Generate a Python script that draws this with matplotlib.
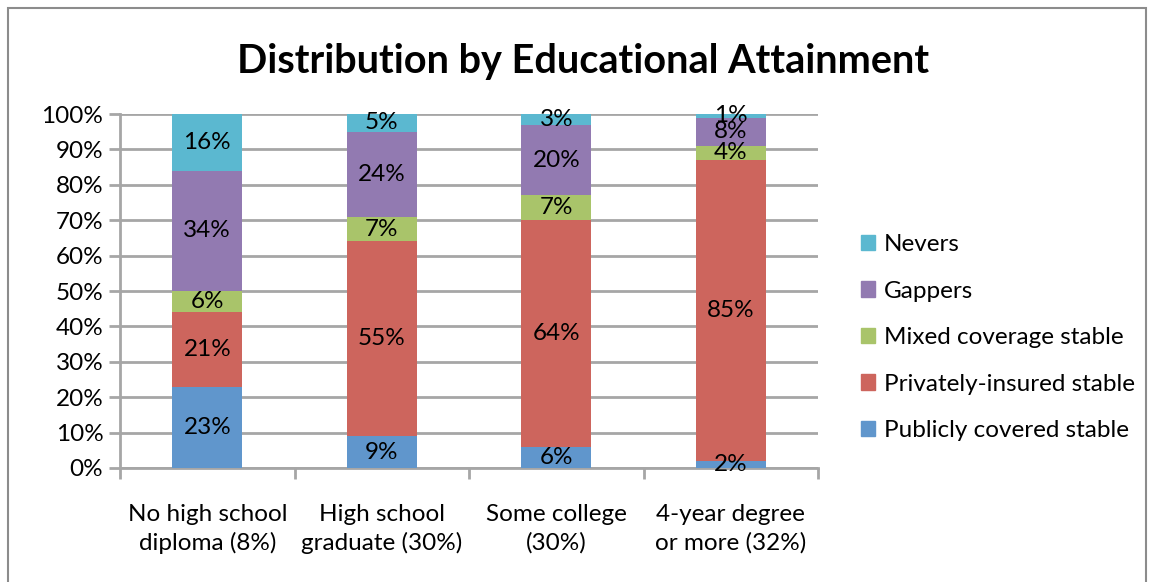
import numpy as np
import matplotlib
matplotlib.use('Agg')
import matplotlib.pyplot as plt
from matplotlib.patches import Rectangle, Patch

plt.rcParams['font.family'] = ['Lato', 'DejaVu Sans']

categories = ['No high school\ndiploma (8%)', 'High school\ngraduate (30%)',
              'Some college\n(30%)', '4-year degree\nor more (32%)']
series = ['Publicly covered stable', 'Privately-insured stable',
          'Mixed coverage stable', 'Gappers', 'Nevers']
public = [23, 9, 6, 2]
private = [21, 55, 64, 85]
mixed = [6, 7, 7, 4]
gappers = [34, 24, 20, 8]
nevers = [16, 5, 3, 1]
colors = ['#6096CC', '#CD655D', '#A9C46A', '#927AB1', '#5BB8D0']

grid_c = '#A6A6A6'
fs = 17.5

fig = plt.figure(figsize=(11.54, 5.82), dpi=100)
fig.patches.append(Rectangle((0.007, -0.01), 0.986, 0.996, transform=fig.transFigure,
                             fill=False, edgecolor='#8C8C8C', linewidth=1.5))
ax = fig.add_axes([0.104, 0.196, 0.605, 0.608])

x = np.arange(len(categories))
data = np.array([public, private, mixed, gappers, nevers], dtype=float)
totals = data.sum(axis=0)
bottom = np.zeros(len(categories))
for vals, name, c in zip(data, series, colors):
    frac = vals / totals
    ax.bar(x, frac, 0.4, bottom=bottom, color=c, label=name, zorder=3)
    for xi, b, f, v in zip(x, bottom, frac, vals):
        ax.text(xi, b + f / 2, '%d%%' % v, ha='center', va='center',
                fontsize=fs, color='black', zorder=4)
    bottom += frac

ax.set_xlim(-0.5, len(categories) - 0.5)
ax.set_ylim(0, 1)
ax.set_yticks(np.linspace(0, 1, 11))
ax.set_yticklabels(['%d%%' % v for v in range(0, 101, 10)], fontsize=fs)
ax.yaxis.grid(True, color=grid_c, linewidth=2, zorder=0)
ax.set_xticks(np.arange(-0.5, len(categories)), minor=False)
ax.set_xticklabels([])
ax.set_xticks(x, minor=True)
ax.set_xticklabels(categories, minor=True, fontsize=fs, linespacing=1.4)
ax.tick_params(axis='x', which='minor', length=0, pad=26)
ax.tick_params(axis='x', which='major', length=8, width=2, color=grid_c)
ax.tick_params(axis='y', length=8, width=2, color=grid_c, pad=4)
for s in ['top', 'right']:
    ax.spines[s].set_visible(False)
for s in ['left', 'bottom']:
    ax.spines[s].set_color(grid_c)
    ax.spines[s].set_linewidth(2)

fig.text(0.505, 0.895, 'Distribution by Educational Attainment', ha='center',
         va='center', fontsize=28.5, fontweight='bold')

handles = [Patch(color=c) for c in colors][::-1]
fig.legend(handles, series[::-1], loc='center left', bbox_to_anchor=(0.727, 0.42),
           frameon=False, fontsize=fs, handlelength=0.6, handleheight=0.6,
           handletextpad=0.35, labelspacing=1.05)

fig.savefig('out.png', dpi=100)
